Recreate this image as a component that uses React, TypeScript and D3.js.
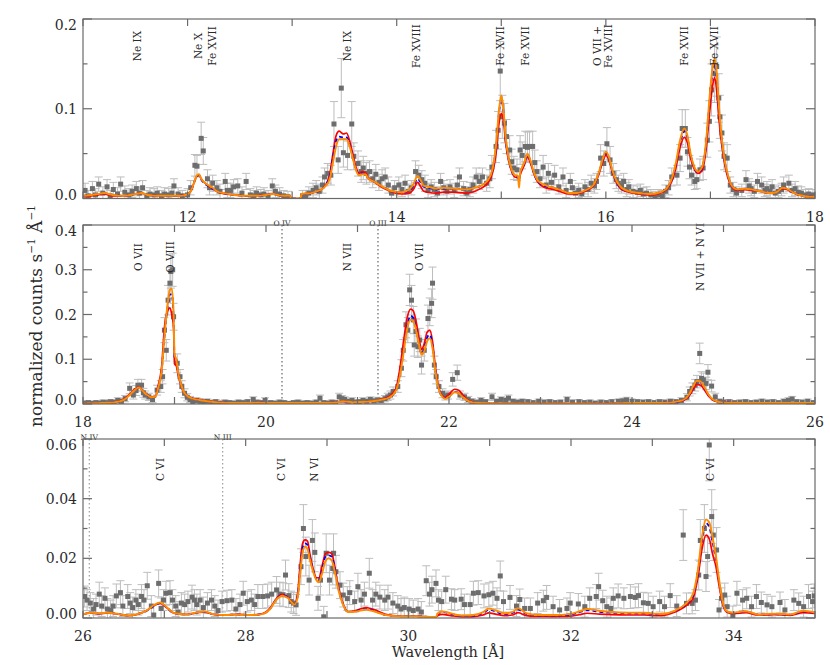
import React from 'react';
import * as d3 from 'd3';

// ---------------- DATA ----------------
// data points: [wavelength, value, error]
type Pt = [number, number, number];

const P1_DATA: Pt[] = [
  [11.02,.009,.008],[11.05,.003,.006],[11.09,.011,.008],[11.12,.004,.007],[11.15,.016,.008],[11.19,.006,.007],
  [11.23,.013,.008],[11.26,.003,.006],[11.29,.010,.008],[11.33,.005,.007],[11.36,.016,.008],[11.40,.007,.007],
  [11.44,.004,.007],[11.47,.008,.007],[11.51,.011,.008],[11.54,.006,.007],[11.57,.012,.008],[11.61,.003,.006],
  [11.64,.005,.007],[11.68,.004,.007],[11.71,.006,.007],[11.75,.003,.006],[11.78,.005,.007],[11.82,.004,.007],
  [11.85,.006,.007],[11.87,.014,.008],[11.91,.005,.007],[11.95,.003,.006],[12.00,.004,.007],[12.03,.012,.008],
  [12.07,.037,.012],[12.09,.036,.012],[12.13,.067,.018],[12.15,.053,.015],[12.19,.022,.010],[12.21,.012,.008],
  [12.24,.017,.009],[12.28,.012,.008],[12.31,.008,.008],[12.36,.019,.009],[12.38,.009,.008],[12.41,.009,.008],
  [12.44,.013,.008],[12.48,.014,.008],[12.52,.006,.007],[12.56,.019,.009],[12.60,.004,.007],[12.63,.003,.006],
  [12.66,.006,.007],[12.70,.004,.006],[12.73,.005,.007],[12.77,.003,.006],[12.81,.014,.008],[12.84,.008,.007],
  [12.88,.005,.007],[12.92,.003,.006],[12.96,.002,.006],[13.10,.003,.006],[13.13,.003,.006],[13.16,.006,.007],
  [13.20,.009,.008],[13.23,.012,.008],[13.26,.008,.008],[13.29,.015,.009],[13.31,.024,.010],[13.34,.028,.011],
  [13.37,.026,.011],[13.40,.083,.025],[13.44,.043,.015],[13.47,.123,.033],[13.49,.051,.016],[13.53,.048,.016],
  [13.57,.083,.025],[13.59,.047,.015],[13.63,.039,.014],[13.66,.030,.012],[13.68,.034,.013],[13.71,.028,.012],
  [13.74,.030,.012],[13.77,.022,.010],[13.80,.027,.011],[13.83,.018,.009],[13.86,.022,.010],[13.89,.024,.010],
  [13.92,.015,.009],[13.95,.006,.007],[13.98,.012,.008],[14.02,.015,.009],[14.05,.010,.008],[14.08,.017,.009],
  [14.11,.008,.008],[14.14,.012,.008],[14.18,.030,.012],[14.21,.026,.011],[14.24,.021,.010],[14.27,.017,.009],
  [14.30,.009,.008],[14.33,.013,.008],[14.36,.010,.008],[14.39,.006,.007],[14.42,.019,.009],[14.45,.012,.008],
  [14.48,.008,.008],[14.51,.013,.008],[14.55,.009,.008],[14.58,.015,.009],[14.60,.024,.010],[14.64,.011,.008],
  [14.67,.006,.007],[14.70,.010,.008],[14.73,.015,.009],[14.76,.024,.010],[14.79,.019,.009],[14.82,.024,.010],
  [14.86,.017,.009],[14.89,.022,.010],[14.91,.035,.013],[14.95,.058,.018],[14.97,.076,.021],[14.99,.142,.033],
  [15.01,.091,.024],[15.03,.084,.022],[15.05,.069,.019],[15.08,.054,.016],[15.10,.041,.014],[15.12,.034,.013],
  [15.15,.032,.012],[15.18,.054,.016],[15.20,.048,.015],[15.23,.058,.017],[15.25,.057,.017],[15.27,.058,.017],
  [15.30,.058,.017],[15.32,.040,.014],[15.34,.030,.012],[15.37,.022,.010],[15.40,.035,.013],[15.43,.015,.009],
  [15.45,.028,.011],[15.48,.018,.009],[15.51,.026,.011],[15.55,.013,.008],[15.59,.024,.010],[15.62,.009,.008],
  [15.66,.019,.009],[15.68,.012,.008],[15.71,.006,.007],[15.74,.009,.008],[15.77,.005,.007],[15.80,.013,.008],
  [15.83,.010,.008],[15.86,.017,.009],[15.89,.014,.008],[15.91,.019,.009],[15.95,.045,.015],[15.98,.039,.014],
  [16.01,.061,.018],[16.04,.043,.015],[16.07,.028,.011],[16.10,.021,.010],[16.12,.017,.009],[16.15,.014,.008],
  [16.17,.019,.009],[16.20,.010,.008],[16.22,.013,.008],[16.26,.008,.007],[16.30,.007,.007],[16.33,.009,.007],
  [16.36,.005,.007],[16.39,.006,.007],[16.43,.004,.006],[16.47,.002,.006],[16.50,.004,.006],[16.54,.003,.006],
  [16.57,.008,.007],[16.60,.012,.008],[16.63,.024,.010],[16.68,.026,.011],[16.71,.045,.015],[16.73,.078,.021],
  [16.76,.078,.021],[16.78,.052,.016],[16.80,.035,.013],[16.82,.026,.011],[16.85,.019,.009],[16.87,.021,.010],
  [16.90,.032,.012],[16.93,.034,.013],[16.97,.065,.019],[16.99,.086,.023],[17.01,.121,.029],[17.04,.139,.032],
  [17.06,.147,.033],[17.08,.112,.027],[17.09,.091,.024],[17.11,.073,.020],[17.13,.047,.015],[17.16,.045,.015],
  [17.19,.015,.009],[17.22,.010,.008],[17.25,.006,.007],[17.30,.009,.007],[17.34,.021,.010],[17.37,.014,.008],
  [17.39,.011,.008],[17.42,.008,.007],[17.45,.019,.009],[17.49,.015,.009],[17.52,.009,.007],[17.54,.011,.008],
  [17.57,.008,.007],[17.59,.013,.008],[17.62,.006,.007],[17.65,.008,.007],[17.68,.010,.007],[17.70,.015,.009],
  [17.75,.017,.009],[17.78,.009,.007],[17.81,.011,.008],[17.84,.007,.007],[17.87,.006,.007],[17.91,.004,.006],
  [17.94,.005,.006],[17.98,.004,.006],
];

const P2_DATA: Pt[] = [
  [18.02,.002,.004],[18.06,.003,.004],[18.10,.001,.004],[18.14,.003,.004],[18.18,.002,.004],[18.22,.004,.005],
  [18.26,.003,.004],[18.30,.005,.005],[18.34,.004,.005],[18.38,.008,.006],[18.42,.006,.006],[18.46,.012,.007],
  [18.51,.035,.012],[18.55,.020,.009],[18.58,.030,.011],[18.60,.042,.013],[18.64,.042,.013],[18.66,.025,.010],
  [18.68,.020,.009],[18.72,.016,.008],[18.76,.010,.007],[18.81,.031,.011],[18.85,.039,.013],[18.87,.061,.016],
  [18.89,.165,.028],[18.91,.120,.024],[18.93,.232,.033],[18.95,.270,.035],[18.96,.296,.037],[18.98,.300,.037],
  [18.99,.195,.030],[19.03,.091,.021],[19.06,.061,.016],[19.08,.039,.013],[19.11,.024,.010],[19.14,.015,.008],
  [19.17,.010,.007],[19.20,.005,.006],[19.24,.008,.006],[19.28,.006,.006],[19.32,.004,.005],[19.36,.006,.005],
  [19.40,.003,.005],[19.45,.005,.005],[19.50,.002,.004],[19.55,.004,.005],[19.60,.003,.004],[19.65,.002,.004],
  [19.70,.004,.005],[19.75,.003,.004],[19.80,.005,.005],[19.86,.010,.006],[19.90,.004,.005],[19.95,.003,.004],
  [19.99,.008,.006],[20.05,.003,.004],[20.10,.002,.004],[20.15,.004,.005],[20.20,.003,.004],[20.25,.001,.004],
  [20.30,.003,.004],[20.35,.004,.005],[20.40,.002,.004],[20.45,.003,.004],[20.50,.002,.004],[20.55,.004,.005],
  [20.59,.013,.007],[20.63,.003,.004],[20.68,.002,.004],[20.72,.004,.005],[20.76,.003,.004],[20.80,.016,.008],
  [20.83,.012,.007],[20.86,.010,.006],[20.90,.006,.005],[20.94,.008,.006],[20.98,.004,.005],[21.02,.005,.005],
  [21.06,.008,.006],[21.10,.006,.005],[21.14,.010,.006],[21.18,.007,.006],[21.22,.009,.006],[21.26,.008,.006],
  [21.30,.012,.007],[21.33,.016,.008],[21.36,.020,.009],[21.39,.028,.010],[21.44,.039,.013],[21.48,.080,.019],
  [21.50,.120,.024],[21.53,.177,.029],[21.55,.165,.028],[21.57,.255,.035],[21.59,.232,.033],[21.61,.188,.030],
  [21.62,.132,.025],[21.64,.162,.028],[21.66,.128,.024],[21.68,.143,.026],[21.70,.087,.020],[21.73,.120,.024],
  [21.77,.191,.030],[21.79,.206,.031],[21.81,.225,.032],[21.82,.270,.036],[21.84,.087,.020],[21.86,.061,.016],
  [21.89,.039,.013],[21.93,.024,.010],[21.96,.018,.009],[21.99,.020,.009],[22.04,.055,.015],[22.09,.070,.017],
  [22.12,.020,.009],[22.17,.016,.008],[22.21,.010,.007],[22.25,.006,.006],[22.30,.004,.005],[22.35,.008,.006],
  [22.40,.005,.005],[22.47,.016,.008],[22.52,.006,.005],[22.57,.010,.006],[22.62,.008,.006],[22.65,.013,.007],
  [22.70,.006,.005],[22.75,.004,.005],[22.80,.006,.005],[22.86,.005,.005],[22.92,.003,.004],[22.98,.006,.005],
  [23.04,.004,.005],[23.10,.005,.005],[23.16,.003,.004],[23.22,.004,.005],[23.29,.010,.006],[23.35,.004,.005],
  [23.42,.005,.005],[23.48,.003,.004],[23.54,.004,.005],[23.60,.002,.004],[23.66,.004,.005],[23.72,.003,.004],
  [23.78,.005,.005],[23.85,.006,.005],[23.90,.007,.006],[23.94,.009,.006],[24.00,.006,.005],[24.06,.005,.005],
  [24.12,.004,.005],[24.18,.005,.005],[24.24,.003,.004],[24.30,.005,.005],[24.36,.004,.005],[24.42,.006,.005],
  [24.48,.005,.005],[24.54,.008,.006],[24.60,.015,.008],[24.63,.028,.010],[24.66,.035,.012],[24.69,.042,.013],
  [24.71,.050,.014],[24.74,.113,.023],[24.76,.057,.015],[24.78,.054,.015],[24.81,.046,.014],[24.83,.071,.017],
  [24.87,.040,.013],[24.91,.016,.008],[24.96,.006,.005],[25.00,.004,.005],[25.06,.005,.005],[25.12,.003,.004],
  [25.18,.004,.005],[25.24,.005,.005],[25.30,.003,.004],[25.36,.004,.005],[25.42,.006,.005],[25.48,.004,.005],
  [25.54,.005,.005],[25.60,.003,.004],[25.66,.006,.005],[25.71,.008,.006],[25.75,.011,.006],[25.80,.005,.005],
  [25.86,.004,.005],[25.92,.006,.005],[25.98,.003,.004],
];

const P3_DATA: Pt[] = [
  [26.02,.0072,.0035],[26.05,.0060,.0035],[26.09,.0050,.0035],[26.13,.0030,.0035],[26.16,.0045,.0035],[26.20,.0080,.004],
  [26.23,.0040,.0035],[26.27,.0066,.0035],[26.30,.0030,.0035],[26.34,.0025,.0035],[26.37,.0040,.0035],[26.41,.0074,.004],
  [26.46,.0085,.004],[26.49,.0040,.0035],[26.55,.0072,.004],[26.58,.0050,.0035],[26.61,.0035,.0035],[26.65,.0060,.0035],
  [26.68,.0045,.0035],[26.72,.0072,.004],[26.75,.0060,.0035],[26.79,.0108,.0045],[26.84,.0040,.0035],[26.87,.0010,.0035],
  [26.93,.0116,.0045],[26.96,.0032,.0035],[26.99,.0060,.0035],[27.02,.0083,.004],[27.07,.0085,.004],[27.10,.0060,.0035],
  [27.14,.0040,.0035],[27.17,.0020,.0035],[27.21,.0050,.0035],[27.25,.0045,.0035],[27.29,.0055,.0035],[27.34,.0070,.004],
  [27.37,.0060,.0035],[27.40,.0045,.0035],[27.44,.0060,.0035],[27.48,.0035,.0035],[27.53,.0050,.0035],[27.58,.0060,.0035],
  [27.62,.0040,.0035],[27.66,.0025,.0035],[27.71,.0055,.0035],[27.77,.0058,.0035],[27.83,.0060,.0035],[27.88,.0030,.0035],
  [27.93,.0045,.0035],[27.97,.0083,.004],[28.02,.0055,.0035],[28.07,.0060,.0035],[28.11,.0045,.0035],[28.15,.0072,.004],
  [28.21,.0072,.004],[28.27,.0074,.004],[28.32,.0080,.004],[28.38,.0094,.0045],[28.42,.0080,.004],[28.46,.0078,.004],
  [28.49,.0144,.005],[28.53,.0075,.004],[28.56,.0055,.0035],[28.59,.0050,.0035],[28.62,.0044,.0035],[28.68,.0172,.006],
  [28.71,.0300,.008],[28.74,.0206,.0065],[28.78,.0127,.005],[28.82,.0260,.007],[28.85,.0220,.0065],[28.89,.0066,.004],
  [28.92,.0127,.005],[28.96,.0004,.0035],[28.99,.0217,.0065],[29.03,.0127,.005],[29.07,.0166,.0055],[29.08,.0217,.0065],
  [29.11,.0155,.0055],[29.16,.0110,.0045],[29.20,.0077,.004],[29.25,.0065,.004],[29.28,.0085,.004],[29.34,.0055,.0035],
  [29.38,.0105,.0045],[29.42,.0060,.0035],[29.46,.0080,.004],[29.52,.0150,.005],[29.56,.0060,.0035],[29.60,.0080,.004],
  [29.65,.0070,.004],[29.71,.0060,.0035],[29.75,.0070,.004],[29.81,.0050,.0035],[29.87,.0040,.0035],[29.91,.0030,.0035],
  [29.95,.0035,.0035],[30.01,.0030,.0035],[30.06,.0025,.0035],[30.12,.0030,.0035],[30.16,.0020,.0035],[30.22,.0125,.005],
  [30.26,.0080,.004],[30.29,.0095,.0045],[30.34,.0116,.0045],[30.37,.0060,.0035],[30.41,.0055,.0035],[30.46,.0095,.0045],
  [30.53,.0063,.0035],[30.57,.0060,.0035],[30.65,.0063,.0035],[30.69,.0045,.0035],[30.76,.0045,.0035],[30.80,.0083,.004],
  [30.86,.0085,.004],[30.93,.0074,.004],[30.99,.0078,.004],[31.04,.0083,.004],[31.09,.0066,.0035],[31.13,.0141,.005],
  [31.17,.0055,.0035],[31.25,.0069,.004],[31.33,.0040,.0035],[31.37,.0062,.0035],[31.43,.0032,.0035],[31.50,.0032,.0035],
  [31.59,.0050,.0035],[31.66,.0058,.0035],[31.70,.0069,.004],[31.78,.0038,.0035],[31.86,.0027,.0035],[31.95,.0032,.0035],
  [31.99,.0050,.0035],[32.09,.0047,.0035],[32.17,.0038,.0035],[32.23,.0066,.0035],[32.31,.0072,.004],[32.34,.0105,.0045],
  [32.39,.0058,.0035],[32.44,.0038,.0035],[32.49,.0032,.0035],[32.52,.0066,.0035],[32.58,.0074,.004],[32.65,.0066,.0035],
  [32.73,.0072,.004],[32.79,.0069,.0035],[32.83,.0075,.004],[32.89,.0051,.0035],[32.95,.0049,.0035],[33.01,.0038,.0035],
  [33.09,.0055,.0035],[33.15,.0038,.0035],[33.22,.0075,.004],[33.30,.0040,.0035],[33.38,.0278,.0085],[33.42,.0049,.0035],
  [33.49,.0049,.0035],[33.53,.0060,.0035],[33.57,.0144,.005],[33.59,.0260,.007],[33.64,.0300,.008],[33.66,.0139,.005],
  [33.68,.0206,.0065],[33.70,.0580,.012],[33.73,.0340,.009],[33.75,.0278,.0085],[33.79,.0228,.0075],[33.82,.0027,.0035],
  [33.85,.0066,.0035],[33.89,.0077,.004],[33.92,.0038,.0035],[33.99,.0005,.0035],[34.04,.0083,.004],[34.11,.0060,.0035],
  [34.16,.0066,.0035],[34.22,.0038,.0035],[34.28,.0072,.004],[34.34,.0052,.0035],[34.41,.0044,.0035],[34.47,.0038,.0035],
  [34.57,.0052,.0035],[34.63,.0027,.0035],[34.74,.0060,.0035],[34.80,.0049,.0035],[34.86,.0038,.0035],[34.92,.0072,.004],
  [34.97,.0055,.0035],[34.99,.0074,.004],
];

// model curves: shared wavelength grid per panel, one value list per model
const P1_GRID = [11.00,11.08,11.15,11.20,11.28,11.40,11.50,11.56,11.62,11.75,11.90,11.98,12.03,12.06,12.09,12.11,12.13,12.15,12.18,12.21,12.24,12.28,12.35,12.45,12.55,12.65,12.75,12.82,12.90,12.98,12.99,13.08,13.09,13.18,13.26,13.32,13.36,13.39,13.42,13.45,13.49,13.52,13.55,13.58,13.61,13.64,13.67,13.70,13.73,13.78,13.84,13.90,13.96,14.05,14.12,14.16,14.20,14.23,14.26,14.30,14.38,14.45,14.55,14.65,14.72,14.80,14.87,14.92,14.95,14.98,15.00,15.02,15.04,15.07,15.10,15.13,15.16,15.17,15.18,15.22,15.25,15.28,15.31,15.35,15.42,15.50,15.58,15.65,15.72,15.80,15.88,15.93,15.97,16.00,16.03,16.06,16.10,16.15,16.22,16.32,16.42,16.52,16.58,16.63,16.67,16.71,16.75,16.78,16.81,16.84,16.88,16.92,16.96,16.99,17.02,17.04,17.06,17.08,17.11,17.14,17.17,17.20,17.26,17.33,17.40,17.48,17.56,17.63,17.69,17.73,17.80,17.88,17.95,18.00];
const P1_ORANGE = [.003,.004,.005,.006,.004,.003,.005,.006,.004,.003,.003,.004,.008,.017,.026,.027,.022,.019,.016,.014,.012,.008,.006,.004,.003,.003,.004,.005,.003,.003,0,0,.005,.006,.009,.014,.022,.040,.058,.066,.066,.066,.058,.045,.032,.026,.027,.027,.022,.019,.015,.011,.008,.007,.010,.016,.025,.020,.014,.013,.011,.012,.011,.010,.011,.014,.020,.035,.060,.100,.115,.100,.070,.045,.032,.026,.025,.012,.028,.040,.050,.042,.030,.020,.015,.012,.009,.006,.006,.009,.015,.028,.044,.052,.046,.032,.020,.012,.008,.006,.005,.007,.011,.022,.040,.065,.078,.070,.050,.037,.030,.035,.065,.110,.145,.156,.140,.105,.065,.040,.025,.015,.010,.011,.010,.008,.006,.007,.012,.011,.006,.003,.002,.002];
const P1_BLUE = [.003,.004,.005,.006,.004,.003,.005,.006,.004,.003,.003,.004,.008,.017,.025,.026,.021,.018,.015,.013,.011,.008,.006,.004,.003,.003,.004,.005,.003,.003,0,0,.005,.006,.009,.015,.025,.045,.064,.069,.068,.068,.060,.046,.033,.027,.028,.027,.022,.019,.015,.011,.008,.007,.009,.014,.022,.018,.013,.012,.010,.011,.011,.010,.011,.014,.020,.034,.057,.097,.110,.098,.068,.044,.031,.025,.024,.020,.027,.039,.049,.041,.029,.019,.014,.012,.009,.006,.006,.009,.015,.027,.043,.050,.045,.031,.019,.011,.008,.006,.005,.007,.011,.021,.038,.062,.075,.068,.049,.036,.029,.034,.062,.105,.140,.150,.135,.100,.063,.039,.024,.015,.010,.011,.010,.008,.006,.007,.012,.011,.006,.003,.002,.002];
const P1_RED = [.002,.003,.004,.005,.003,.003,.005,.006,.004,.003,.003,.004,.008,.017,.025,.026,.022,.019,.016,.013,.011,.008,.005,.004,.003,.003,.004,.005,.003,.003,0,0,.005,.006,.009,.015,.027,.050,.070,.075,.072,.073,.064,.050,.035,.028,.030,.029,.023,.019,.014,.010,.007,.005,.006,.010,.018,.013,.008,.007,.006,.007,.007,.006,.007,.011,.017,.030,.050,.085,.095,.088,.064,.042,.030,.024,.023,.022,.026,.037,.046,.039,.028,.018,.012,.010,.007,.005,.005,.008,.014,.026,.041,.048,.043,.030,.018,.010,.007,.005,.004,.006,.010,.019,.034,.057,.068,.062,.045,.034,.028,.031,.056,.093,.125,.135,.120,.090,.058,.036,.022,.014,.009,.010,.009,.008,.006,.007,.011,.010,.006,.003,.002,.002];

const P2_GRID = [18.00,18.20,18.35,18.45,18.52,18.57,18.61,18.65,18.70,18.75,18.79,18.82,18.86,18.89,18.92,18.95,18.97,18.99,19.00,19.02,19.04,19.07,19.10,19.14,19.20,19.30,19.45,19.70,19.95,20.20,20.50,20.75,20.85,20.95,21.10,21.25,21.35,21.42,21.46,21.50,21.54,21.58,21.61,21.64,21.67,21.70,21.73,21.76,21.79,21.82,21.85,21.88,21.92,21.96,22.01,22.06,22.11,22.16,22.22,22.32,22.60,23.00,23.50,24.00,24.40,24.55,24.62,24.67,24.71,24.75,24.79,24.84,24.90,25.00,25.50,26.00];
const P2_ORANGE = [.001,.002,.004,.010,.022,.032,.037,.030,.020,.015,.016,.035,.075,.150,.215,.255,.258,.200,.110,.100,.070,.045,.028,.018,.012,.008,.004,.002,.003,.002,.002,.003,.006,.004,.005,.009,.015,.030,.060,.110,.165,.188,.185,.165,.135,.110,.118,.140,.147,.125,.075,.040,.018,.012,.018,.026,.023,.014,.006,.002,.001,.001,.001,.002,.003,.008,.020,.040,.052,.050,.038,.020,.008,.003,.002,.002];
const P2_BLUE = [.001,.002,.004,.010,.022,.032,.036,.030,.020,.015,.016,.036,.075,.150,.210,.245,.245,.190,.105,.100,.070,.045,.028,.018,.012,.008,.004,.002,.003,.002,.002,.003,.006,.004,.005,.009,.015,.031,.063,.115,.170,.197,.192,.170,.137,.112,.122,.148,.155,.130,.077,.041,.018,.013,.019,.027,.024,.015,.006,.002,.001,.001,.001,.002,.003,.008,.019,.038,.050,.048,.036,.019,.008,.003,.002,.002];
const P2_RED = [.001,.002,.004,.011,.024,.034,.038,.031,.021,.016,.017,.040,.085,.170,.205,.215,.200,.170,.090,.085,.065,.042,.027,.018,.013,.009,.004,.002,.003,.002,.002,.003,.006,.004,.005,.010,.017,.035,.075,.135,.190,.212,.208,.185,.150,.122,.135,.160,.165,.140,.085,.045,.020,.015,.024,.033,.030,.018,.007,.002,.001,.001,.001,.002,.003,.007,.017,.033,.044,.042,.032,.017,.007,.003,.002,.002];

const P3_GRID = [26.00,26.10,26.20,26.30,26.45,26.55,26.65,26.78,26.88,26.95,27.03,27.12,27.28,27.42,27.50,27.60,27.75,27.90,28.05,28.20,28.30,28.38,28.45,28.52,28.60,28.64,28.67,28.70,28.73,28.76,28.79,28.83,28.87,28.90,28.94,28.98,29.02,29.06,29.10,29.14,29.19,29.26,29.36,29.48,29.58,29.72,29.90,30.10,30.30,30.34,30.36,30.42,30.52,30.65,30.78,30.92,30.99,31.07,31.18,31.28,31.35,31.45,31.60,31.80,31.98,32.10,32.20,32.35,32.50,32.70,32.90,33.10,33.28,33.42,33.50,33.56,33.61,33.66,33.70,33.74,33.78,33.82,33.86,33.92,34.00,34.15,34.30,34.50,34.70,34.85,35.00];
const P3_ORANGE = [.0012,.0018,.0015,.0018,.0013,.0008,.0012,.0025,.0045,.0052,.0036,.0017,.0012,.0020,.0022,.0013,.0010,.0012,.0010,.0013,.0030,.0062,.0075,.0067,.0045,.0070,.0150,.0220,.0240,.0232,.0195,.0155,.0127,.0120,.0150,.0190,.0200,.0192,.0150,.0095,.0050,.0020,.0022,.0028,.0022,.0010,.0006,.0006,.0003,.0003,.0015,.0022,.0016,.0008,.0009,.0020,.0032,.0026,.0016,.0020,.0033,.0016,.0010,.0010,.0013,.0022,.0030,.0024,.0020,.0018,.0018,.0013,.0025,.0050,.0080,.0160,.0270,.0330,.0320,.0270,.0210,.0130,.0060,.0022,.0018,.0023,.0012,.0014,.0012,.0024,.0018];
const P3_BLUE = [.0012,.0018,.0015,.0018,.0013,.0008,.0012,.0024,.0043,.0050,.0035,.0016,.0012,.0019,.0021,.0013,.0010,.0012,.0010,.0013,.0031,.0064,.0077,.0068,.0045,.0075,.0160,.0235,.0250,.0245,.0205,.0160,.0130,.0125,.0160,.0205,.0210,.0205,.0160,.0100,.0052,.0020,.0023,.0030,.0024,.0010,.0006,.0006,.0003,.0003,.0013,.0020,.0014,.0007,.0008,.0017,.0028,.0022,.0013,.0017,.0028,.0014,.0009,.0009,.0011,.0019,.0026,.0021,.0018,.0016,.0016,.0012,.0024,.0048,.0075,.0150,.0260,.0318,.0305,.0255,.0200,.0125,.0058,.0021,.0017,.0022,.0012,.0013,.0011,.0022,.0017];
const P3_RED = [.0012,.0017,.0014,.0017,.0012,.0008,.0011,.0024,.0043,.0049,.0034,.0016,.0012,.0019,.0020,.0012,.0010,.0012,.0010,.0014,.0033,.0066,.0079,.0070,.0046,.0085,.0180,.0250,.0262,.0258,.0215,.0165,.0135,.0135,.0175,.0215,.0220,.0215,.0165,.0105,.0054,.0021,.0026,.0035,.0028,.0012,.0006,.0006,.0003,.0003,.0008,.0012,.0008,.0004,.0004,.0010,.0017,.0013,.0008,.0010,.0018,.0008,.0005,.0005,.0006,.0011,.0016,.0013,.0011,.0010,.0010,.0008,.0020,.0042,.0065,.0135,.0230,.0278,.0265,.0215,.0175,.0110,.0052,.0019,.0015,.0018,.0010,.0011,.0009,.0018,.0015];

// line identifications
const P1_LABELS: [number, string][] = [
  [11.52,'Ne IX'],[12.10,'Ne X'],[12.23,'Fe XVII'],[13.52,'Ne IX'],[14.18,'Fe XVIII'],[14.99,'Fe XVII'],
  [15.23,'Fe XVII'],[15.92,'O VII +'],[16.02,'Fe XVIII'],[16.75,'Fe XVII'],[17.03,'Fe XVII'],
];
const P2_LABELS: [number, string][] = [
  [18.60,'O VII'],[18.95,'O VIII'],[20.88,'N VII'],[21.67,'O VII'],[24.74,'N VII + N VI'],
];
const P3_LABELS: [number, string][] = [
  [26.95,'C VI'],[28.43,'C VI'],[28.84,'N VI'],[33.71,'C VI'],
];
// dotted absorption-edge markers
const P2_EDGES: [number, string][] = [[20.175,'O IV'],[21.224,'O III']];
const P3_EDGES: [number, string][] = [[26.077,'N IV'],[27.718,'N III']];

// tick values
const P1_YTICKS = [0, 0.1, 0.2];
const P1_YMINOR = [0.05, 0.15];
const P2_YTICKS = [0, 0.1, 0.2, 0.3, 0.4];
const P2_YMINOR = [0.05, 0.15, 0.25, 0.35];
const P3_YTICKS = [0, 0.02, 0.04, 0.06];
const P3_YMINOR = [0.01, 0.03, 0.05];

// ---------------- LAYOUT ----------------
const LEFT = 83;
const RIGHT = 815;
const FONT = "'DejaVu Serif', serif";
const FRAME = '#6a6a6a';
const TEXT = '#2a2a2a';

interface PanelCfg {
  id: string;
  x0: number; x1: number; yMax: number;
  top: number; bottom: number;
  yTicks: number[]; yMinor: number[]; yFmt: string;
  data: Pt[];
  grid: number[]; orange: number[]; blue: number[]; red: number[];
  labels: [number, string][]; labelOffset: number;
  edges: [number, string][]; edgeColor: string;
}

const PANELS: PanelCfg[] = [
  { id: 'p1', x0: 11, x1: 18, yMax: 0.2, top: 19, bottom: 198.5, yTicks: P1_YTICKS, yMinor: P1_YMINOR, yFmt: '.1f',
    data: P1_DATA, grid: P1_GRID, orange: P1_ORANGE, blue: P1_BLUE, red: P1_RED, labels: P1_LABELS, labelOffset: 27,
    edges: [], edgeColor: '#333' },
  { id: 'p2', x0: 18, x1: 26, yMax: 0.4, top: 225, bottom: 404, yTicks: P2_YTICKS, yMinor: P2_YMINOR, yFmt: '.1f',
    data: P2_DATA, grid: P2_GRID, orange: P2_ORANGE, blue: P2_BLUE, red: P2_RED, labels: P2_LABELS, labelOffset: 32,
    edges: P2_EDGES, edgeColor: '#444' },
  { id: 'p3', x0: 26, x1: 35, yMax: 0.06, top: 439, bottom: 618, yTicks: P3_YTICKS, yMinor: P3_YMINOR, yFmt: '.2f',
    data: P3_DATA, grid: P3_GRID, orange: P3_ORANGE, blue: P3_BLUE, red: P3_RED, labels: P3_LABELS, labelOffset: 30.5,
    edges: P3_EDGES, edgeColor: '#8a8a8a' },
];

function Panel({ cfg }: { cfg: PanelCfg }) {
  const x = d3.scaleLinear().domain([cfg.x0, cfg.x1]).range([LEFT, RIGHT]);
  const y = d3.scaleLinear().domain([0, cfg.yMax]).range([cfg.bottom, cfg.top]);
  const fmt = d3.format(cfg.yFmt);
  const xTicks = d3.range(Math.ceil(cfg.x0), cfg.x1 + 0.001, 1);
  const line = (vals: number[]) =>
    d3.line<number>().x((_, i) => x(cfg.grid[i])).y((d) => y(d)).curve(d3.curveMonotoneX)(vals) || '';
  const clipId = `clip-${cfg.id}`;
  const cap = 4;
  return (
    <g>
      <defs>
        <clipPath id={clipId}>
          <rect x={LEFT} y={cfg.top} width={RIGHT - LEFT} height={cfg.bottom - cfg.top} />
        </clipPath>
      </defs>
      {/* edges */}
      {cfg.edges.map(([l, t], i) => (
        <g key={'e' + i}>
          <line x1={x(l)} x2={x(l)} y1={cfg.top} y2={cfg.bottom} stroke={cfg.edgeColor} strokeWidth={1} strokeDasharray="1.5 2.5" />
          <text x={x(l)} y={cfg.top + 0.5} fontSize={7.5} fontFamily={FONT} textAnchor="middle" fill={TEXT}>{t}</text>
        </g>
      ))}
      <g clipPath={`url(#${clipId})`}>
        {/* error bars */}
        <g stroke="#bdbdbd" strokeWidth={1} fill="none">
          {cfg.data.map((d, i) => {
            const cx = x(d[0]);
            const yl = y(d[1] - d[2]);
            const yh = y(d[1] + d[2]);
            return (
              <g key={i}>
                <line x1={cx} x2={cx} y1={yl} y2={yh} />
                <line x1={cx - cap} x2={cx + cap} y1={yl} y2={yl} />
                <line x1={cx - cap} x2={cx + cap} y1={yh} y2={yh} />
              </g>
            );
          })}
        </g>
        {/* points */}
        <g fill="#6d6d6d">
          {cfg.data.map((d, i) => (
            <rect key={i} x={x(d[0]) - 2.5} y={y(d[1]) - 2.5} width={5} height={5} />
          ))}
        </g>
        {/* models */}
        <path d={line(cfg.red)} fill="none" stroke="#ff0000" strokeWidth={1.7} />
        <path d={line(cfg.blue)} fill="none" stroke="#0000ff" strokeWidth={1.8} strokeDasharray="4 3" />
        <path d={line(cfg.orange)} fill="none" stroke="#ff8c00" strokeWidth={2} />
      </g>
      {/* line labels */}
      {cfg.labels.map(([l, t], i) => (
        <text key={'l' + i} transform={`translate(${x(l) + 4},${cfg.top + cfg.labelOffset}) rotate(-90)`}
          fontSize={10.5} fontFamily={FONT} textAnchor="middle" fill={TEXT}>{t}</text>
      ))}
      {/* frame */}
      <rect x={LEFT} y={cfg.top} width={RIGHT - LEFT} height={cfg.bottom - cfg.top} fill="none" stroke={FRAME} strokeWidth={1.2} />
      {/* x ticks */}
      {xTicks.map((t) => (
        <g key={'xt' + t} stroke={FRAME} strokeWidth={1.2}>
          <line x1={x(t)} x2={x(t)} y1={cfg.top} y2={cfg.top + 7} />
          <line x1={x(t)} x2={x(t)} y1={cfg.bottom} y2={cfg.bottom - 7} />
        </g>
      ))}
      {xTicks.filter((t) => t % 2 === 0).map((t) => (
        <text key={'xl' + t} x={x(t)} y={cfg.bottom + 23} fontSize={14} fontFamily={FONT} textAnchor="middle" fill={TEXT}>{t}</text>
      ))}
      {/* y ticks */}
      {cfg.yTicks.map((t) => (
        <g key={'yt' + t} stroke={FRAME} strokeWidth={1.2}>
          <line x1={LEFT} x2={LEFT + 9} y1={y(t)} y2={y(t)} />
          <line x1={RIGHT} x2={RIGHT - 9} y1={y(t)} y2={y(t)} />
        </g>
      ))}
      {cfg.yMinor.map((t) => (
        <g key={'ym' + t} stroke={FRAME} strokeWidth={1.2}>
          <line x1={LEFT} x2={LEFT + 4.5} y1={y(t)} y2={y(t)} />
          <line x1={RIGHT} x2={RIGHT - 4.5} y1={y(t)} y2={y(t)} />
        </g>
      ))}
      {cfg.yTicks.map((t, i) => {
        const adj = i === 0 ? -4 : i === cfg.yTicks.length - 1 ? 6 : 0;
        return (
          <text key={'yl' + t} x={77} y={y(t) + adj + 5} fontSize={14} fontFamily={FONT} textAnchor="end" fill={TEXT}>{fmt(t)}</text>
        );
      })}
    </g>
  );
}

export default function App() {
  return (
    <svg width={830} height={665} viewBox="0 0 830 665"
      style={{ position: 'absolute', left: 0, top: 0, background: '#fff' }}>
      <rect x={0} y={0} width={830} height={665} fill="#fff" />
      {PANELS.map((p) => <Panel key={p.id} cfg={p} />)}
      <text x={448} y={657} fontSize={14.5} fontFamily={FONT} textAnchor="middle" fill={TEXT}>Wavelength [Å]</text>
      <text transform="translate(42,316) rotate(-90)" fontSize={17} fontFamily={FONT} textAnchor="middle" fill={TEXT}>
        normalized counts s<tspan fontSize={10.5} dy={-7}>−1</tspan><tspan dy={7}> Å</tspan><tspan fontSize={10.5} dy={-7}>−1</tspan>
      </text>
    </svg>
  );
}
